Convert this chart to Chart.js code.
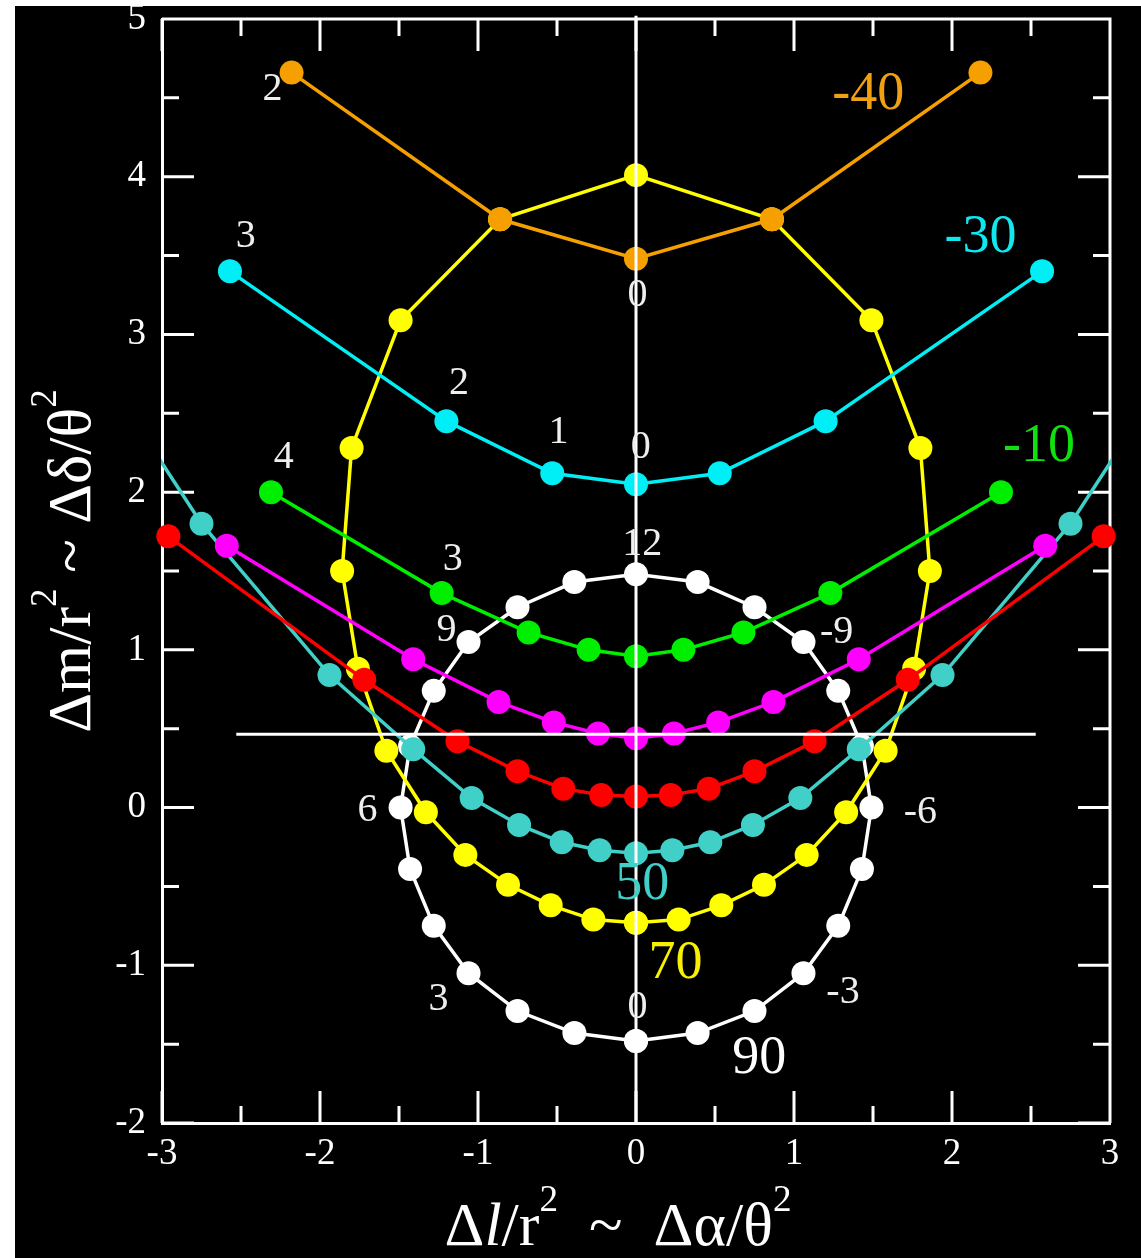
<!DOCTYPE html>
<html>
<head>
<meta charset="utf-8">
<script src="https://cdn.jsdelivr.net/npm/chart.js@4.4.1/dist/chart.umd.min.js"></script>
<style>
  html, body { margin: 0; padding: 0; background: #fff; }
  #wrap { position: absolute; left: 15px; top: 6px; width: 1126px; height: 1252px; background: #000; }
</style>
</head>
<body>
<div id="wrap"><canvas id="grafico"></canvas></div>
<script>
// eixos
const xTicks = [-3, -2, -1, 0, 1, 2, 3];
const yTicks = [-2, -1, 0, 1, 2, 3, 4, 5];

// curvas por declinação (x = Δl/r², y = Δm/r²)
const orangeX = [-2.18, -0.86, 0, 0.86, 2.18];
const orangeY = [4.66, 3.73, 3.48, 3.73, 4.66];

const cyanX = [-2.57, -1.20, -0.53, 0, 0.53, 1.20, 2.57];
const cyanY = [3.40, 2.45, 2.12, 2.05, 2.12, 2.45, 3.40];

const greenX = [-2.31, -1.23, -0.68, -0.30, 0, 0.30, 0.68, 1.23, 2.31];
const greenY = [2.00, 1.36, 1.11, 1.00, 0.96, 1.00, 1.11, 1.36, 2.00];

const magentaX = [-2.59, -1.41, -0.87, -0.52, -0.24, 0, 0.24, 0.52, 0.87, 1.41, 2.59];
const magentaY = [1.66, 0.94, 0.67, 0.54, 0.47, 0.44, 0.47, 0.54, 0.67, 0.94, 1.66];

const redX = [-2.96, -1.72, -1.13, -0.75, -0.46, -0.22, 0, 0.22, 0.46, 0.75, 1.13, 1.72, 2.96];
const redY = [1.72, 0.81, 0.42, 0.23, 0.12, 0.08, 0.07, 0.08, 0.12, 0.23, 0.42, 0.81, 1.72];

const turqX = [-4.05, -2.75, -1.94, -1.41, -1.04, -0.74, -0.47, -0.23, 0, 0.23, 0.47, 0.74, 1.04, 1.41, 1.94, 2.75, 4.05];
const turqY = [3.80, 1.80, 0.84, 0.37, 0.06, -0.11, -0.22, -0.27, -0.29, -0.27, -0.22, -0.11, 0.06, 0.37, 0.84, 1.80, 3.80];

// laço fechado amarelo (24 h)
const yellowX = [0, -0.27, -0.54, -0.81, -1.08, -1.33, -1.58, -1.76, -1.86, -1.80, -1.49, -0.86, 0,
                 0.86, 1.49, 1.80, 1.86, 1.76, 1.58, 1.33, 1.08, 0.81, 0.54, 0.27, 0];
const yellowY = [-0.73, -0.71, -0.62, -0.49, -0.30, -0.03, 0.36, 0.88, 1.50, 2.28, 3.09, 3.73, 4.01,
                 3.73, 3.09, 2.28, 1.50, 0.88, 0.36, -0.03, -0.30, -0.49, -0.62, -0.71, -0.73];

// laço branco (polo, 24 h)
const whiteX = [0, -0.39, -0.75, -1.06, -1.28, -1.43, -1.49, -1.43, -1.28, -1.06, -0.75, -0.39, 0,
                0.39, 0.75, 1.06, 1.28, 1.43, 1.49, 1.43, 1.28, 1.06, 0.75, 0.39, 0];
const whiteY = [-1.48, -1.43, -1.29, -1.05, -0.75, -0.39, 0, 0.39, 0.74, 1.05, 1.27, 1.43, 1.48,
                1.43, 1.27, 1.05, 0.74, 0.39, 0, -0.39, -0.75, -1.05, -1.29, -1.43, -1.48];

// linhas de referência
const refVX = [0, 0];
const refVY = [-2, 5.02];
const refHX = [-2.53, 2.53];
const refHY = [0.465, 0.465];

// rótulos das horas
const hourText = ['2', '3', '0', '2', '1', '0', '4', '3', '12', '9', '-9', '6', '-6', '3', '-3', '0'];
const hourX = [-2.30, -2.47, 0.01, -1.12, -0.49, 0.03, -2.23, -1.16, 0.04, -1.20, 1.27, -1.70, 1.80, -1.25, 1.31, 0.01];
const hourY = [4.55, 3.62, 3.25, 2.69, 2.38, 2.28, 2.22, 1.57, 1.67, 1.12, 1.11, -0.02, -0.03, -1.22, -1.17, -1.27];

// rótulos das declinações
const decText = ['-40', '-30', '-10', '50', '70', '90'];
const decX = [1.47, 2.18, 2.55, 0.04, 0.25, 0.78];
const decY = [4.52, 3.61, 2.29, -0.49, -0.99, -1.59];
const decColor = ['#f0a010', '#10e8f0', '#10e010', '#40d0c8', '#f8f000', '#ffffff'];

const serif = "'Liberation Serif', 'DejaVu Serif', serif";

function pts(xs, ys) {
  return xs.map((v, i) => ({ x: v, y: ys[i] }));
}

function serie(xs, ys, cor, extra) {
  return Object.assign({
    data: pts(xs, ys),
    borderColor: cor,
    backgroundColor: cor,
    pointBackgroundColor: cor,
    pointBorderWidth: 0,
    pointRadius: 12,
    pointHoverRadius: 12,
    borderWidth: 3.5,
    tension: 0
  }, extra || {});
}

// moldura superior/direita e marcas internas
const moldura = {
  id: 'moldura',
  beforeDatasetsDraw(chart) {
    const { ctx, chartArea: a, scales: { x, y } } = chart;
    ctx.save();
    ctx.strokeStyle = '#fff';
    ctx.lineWidth = 3;
    ctx.beginPath();
    ctx.moveTo(a.left, a.top);
    ctx.lineTo(a.right, a.top);
    ctx.lineTo(a.right, a.bottom);
    for (let v = xTicks[0]; v <= xTicks[xTicks.length - 1] + 1e-9; v += 0.5) {
      const px = x.getPixelForValue(v);
      const len = Number.isInteger(v) ? 32 : 17;
      ctx.moveTo(px, a.bottom); ctx.lineTo(px, a.bottom - len);
      ctx.moveTo(px, a.top); ctx.lineTo(px, a.top + len);
    }
    for (let v = yTicks[0]; v <= yTicks[yTicks.length - 1] + 1e-9; v += 0.5) {
      const py = y.getPixelForValue(v);
      const len = Number.isInteger(v) ? 32 : 17;
      ctx.moveTo(a.left, py); ctx.lineTo(a.left + len, py);
      ctx.moveTo(a.right, py); ctx.lineTo(a.right - len, py);
    }
    ctx.stroke();
    ctx.restore();
  }
};

// desenha texto com expoentes e itálico
function textoRico(ctx, partes, size, cx, cy, ang) {
  const fonte = p => (p.it ? 'italic ' : '') + (p.sup ? size * 0.6 : size) + 'px ' + serif;
  let w = 0;
  partes.forEach(p => { ctx.font = fonte(p); p.w = ctx.measureText(p.t).width; w += p.w; });
  ctx.save();
  ctx.translate(cx, cy);
  ctx.rotate(ang);
  ctx.fillStyle = '#fff';
  ctx.textAlign = 'left';
  ctx.textBaseline = 'alphabetic';
  let pos = -w / 2;
  partes.forEach(p => {
    ctx.font = fonte(p);
    ctx.fillText(p.t, pos, p.sup ? -size * 0.55 : 0);
    pos += p.w;
  });
  ctx.restore();
}

const rotulos = {
  id: 'rotulos',
  afterDraw(chart) {
    const { ctx, scales: { x, y } } = chart;
    ctx.save();
    ctx.textAlign = 'center';
    ctx.textBaseline = 'middle';
    ctx.fillStyle = '#eee';
    ctx.font = '40px ' + serif;
    hourText.forEach((t, i) => {
      ctx.fillText(t, x.getPixelForValue(hourX[i]), y.getPixelForValue(hourY[i]));
    });
    ctx.font = '54px ' + serif;
    decText.forEach((t, i) => {
      ctx.fillStyle = decColor[i];
      ctx.fillText(t, x.getPixelForValue(decX[i]), y.getPixelForValue(decY[i]));
    });
    ctx.restore();

    textoRico(ctx, [{ t: 'Δ' }, { t: 'l', it: true }, { t: '/r' }, { t: '2', sup: true },
      { t: '  ~  Δα/θ' }, { t: '2', sup: true }], 62, 603, 1239, 0);
    textoRico(ctx, [{ t: 'Δm/r' }, { t: '2', sup: true },
      { t: ' ~ Δδ/θ' }, { t: '2', sup: true }], 62, 75, 555, -Math.PI / 2);
  }
};

const ctxGrafico = document.getElementById('grafico');

new Chart(ctxGrafico, {
  type: 'line',
  data: {
    datasets: [
      serie(refVX, refVY, '#fff', { pointRadius: 0, pointHoverRadius: 0, borderWidth: 3, clip: false }),
      serie(refHX, refHY, '#fff', { pointRadius: 0, pointHoverRadius: 0, borderWidth: 3 }),
      serie(redX, redY, '#ff0000', { clip: false }),
      serie(magentaX, magentaY, '#ff00ff'),
      serie(turqX, turqY, '#40d0c8', { clip: 1 }),
      serie(greenX, greenY, '#00ee00'),
      serie(cyanX, cyanY, '#00eef5'),
      serie(orangeX, orangeY, '#f5a000'),
      serie(yellowX, yellowY, '#ffff00'),
      serie(whiteX, whiteY, '#ffffff')
    ]
  },
  options: {
    responsive: true,
    maintainAspectRatio: false,
    animation: false,
    devicePixelRatio: 1,
    layout: { padding: { top: 13, right: 31, left: 0, bottom: 0 } },
    plugins: {
      legend: { display: false },
      tooltip: { enabled: false }
    },
    scales: {
      x: {
        type: 'linear',
        min: -3,
        max: 3,
        afterBuildTicks: s => { s.ticks = xTicks.map(v => ({ value: v })); },
        afterFit: s => { s.height = 135; s.paddingLeft = 0; s.paddingRight = 0; },
        grid: { drawOnChartArea: false, drawTicks: false },
        border: { display: true, color: '#fff', width: 3 },
        ticks: { color: '#fff', padding: 9, maxRotation: 0, font: { family: serif, size: 37 } }
      },
      y: {
        type: 'linear',
        min: -2,
        max: 5,
        afterBuildTicks: s => { s.ticks = yTicks.map(v => ({ value: v })); },
        afterFit: s => { s.width = 147; s.paddingTop = 0; s.paddingBottom = 0; },
        grid: { drawOnChartArea: false, drawTicks: false },
        border: { display: true, color: '#fff', width: 3 },
        ticks: { color: '#fff', padding: 16, font: { family: serif, size: 37 } }
      }
    }
  },
  plugins: [moldura, rotulos]
});
</script>
</body>
</html>
